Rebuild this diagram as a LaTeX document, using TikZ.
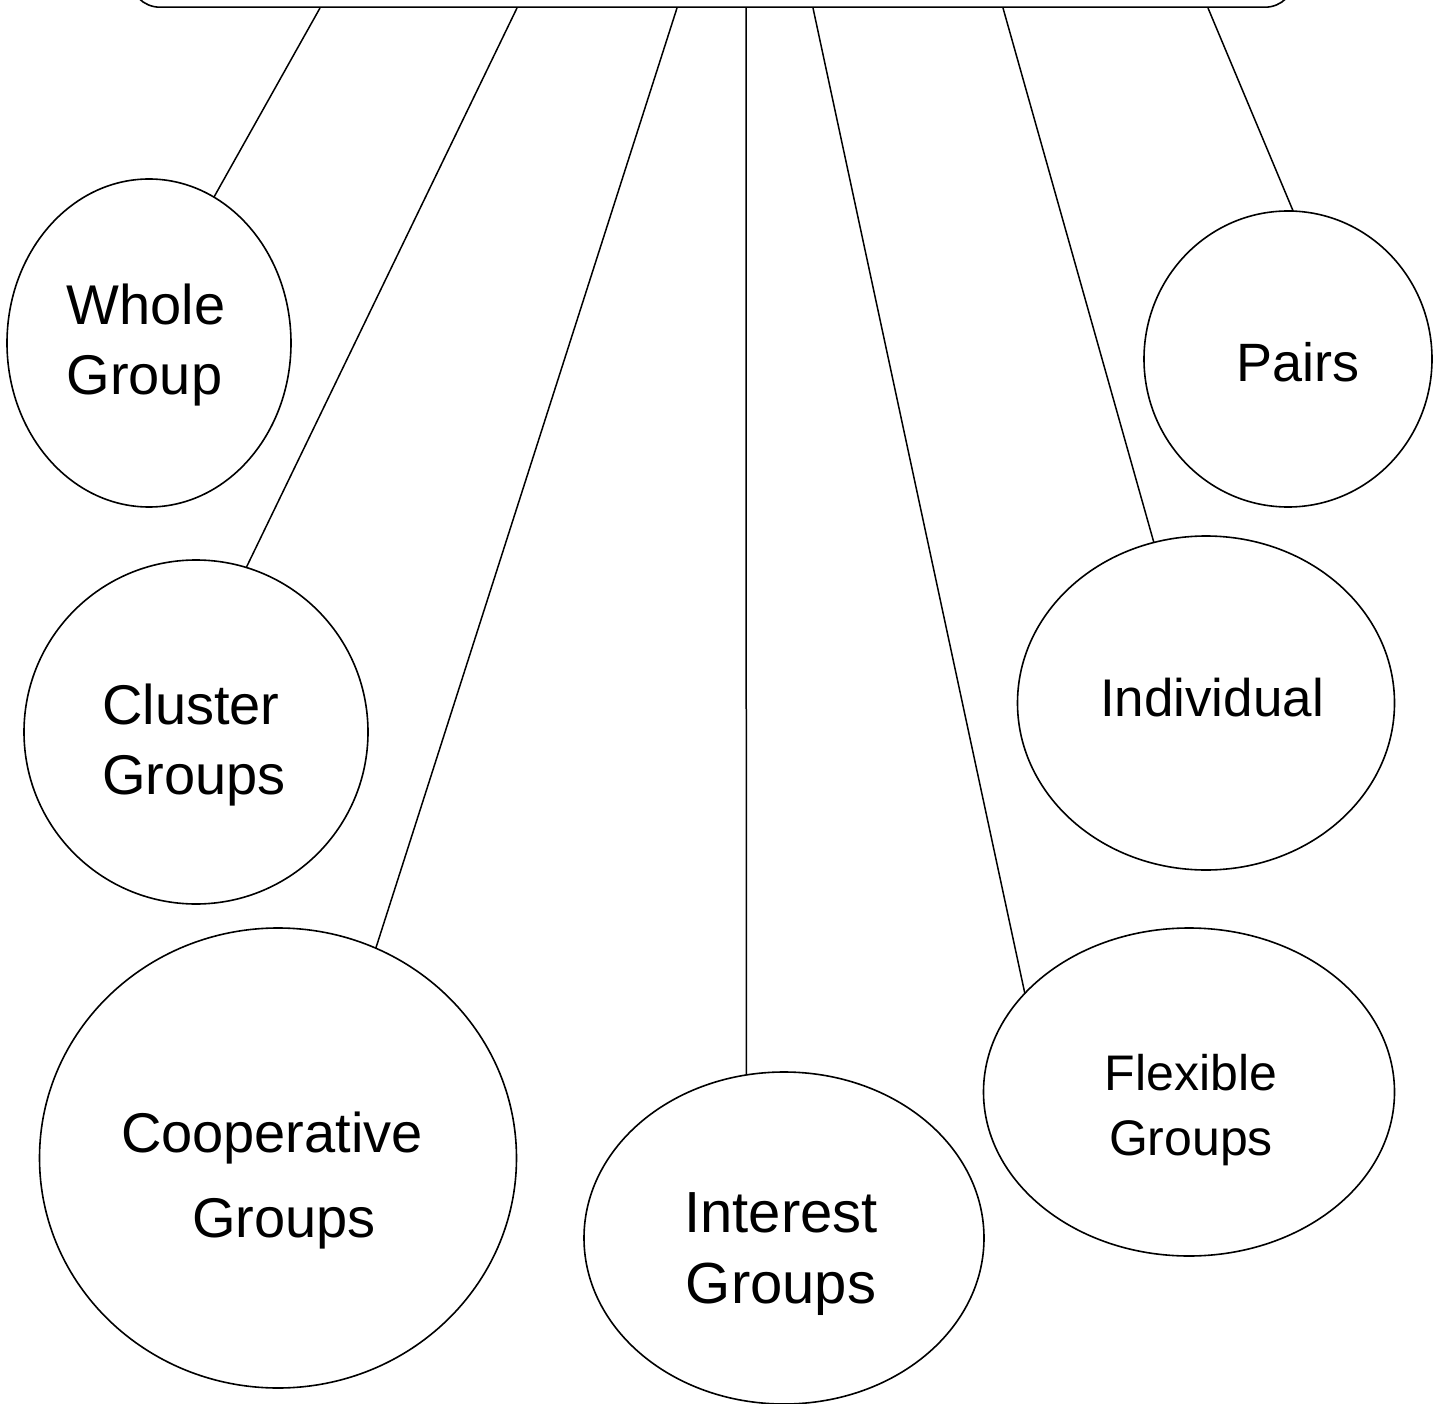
\documentclass[tikz,border=0pt]{standalone}
\usepackage{fontspec}
\setmainfont{Liberation Sans}
\usetikzlibrary{shapes.geometric}

\tikzset{
  grp/.style={draw, ellipse, line width=1.6pt, inner sep=0pt, outer sep=0pt},
  txt/.style={inner sep=0pt, font=\fontsize{56}{70}\selectfont},
  link/.style={line width=1.5pt}
}

\begin{document}
\begin{tikzpicture}[x=1pt,y=-1pt]
    % frame of the picture
    \useasboundingbox (0,0) rectangle (1441,1404);

    % top box (cut off by the page)
    \node[draw, line width=1.6pt, rounded corners=30pt, minimum width=1165pt,
          minimum height=200pt, anchor=south] (top) at (712.5,8) {};

    % groups
    \node[grp, minimum width=284pt, minimum height=328pt,
          label={[txt, align=left, xshift=-3pt, yshift=-2pt]center:{Whole\\Group}}]
          (whole) at (149,343) {};
    \node[grp, minimum width=344pt, minimum height=344pt,
          label={[txt, align=left, xshift=-2pt, yshift=-13pt]center:{Cluster\\Groups}}]
          (cluster) at (196,732) {};
    \node[grp, minimum width=477pt, minimum height=460pt,
          label={[txt, align=center, xshift=-6pt, yshift=-23pt]center:{Cooperative\\[15pt]\hspace{24pt}Groups}}]
          (coop) at (278,1158) {};
    \node[grp, minimum width=400pt, minimum height=332pt,
          label={[txt, font=\fontsize{58}{71}\selectfont, align=center, xshift=-3pt, yshift=-16pt]center:{Interest\\Groups}}]
          (interest) at (784,1238) {};
    \node[grp, minimum width=411pt, minimum height=328pt,
          label={[txt, font=\fontsize{50}{65}\selectfont, align=center, xshift=2pt, yshift=-18pt]center:{Flexible\\Groups}}]
          (flex) at (1189,1092) {};
    \node[grp, minimum width=377pt, minimum height=334pt,
          label={[txt, font=\fontsize{53}{65}\selectfont, xshift=6pt, yshift=5pt]center:Individual}]
          (indiv) at (1206,703) {};
    \node[grp, minimum width=288pt, minimum height=296pt,
          label={[txt, font=\fontsize{54}{65}\selectfont, xshift=10pt, yshift=-3pt]center:Pairs}]
          (pairs) at (1288,359) {};

    % connectors from the box
    \foreach \x/\n/\a in {320/whole/66, 517/cluster/73, 677/coop/65,
                          746/interest/103, 813/flex/149, 1003/indiv/108, 1208/pairs/88}
        \draw[link] (\x,0 |- top.south) -- (\n.\a);
\end{tikzpicture}
\end{document}
